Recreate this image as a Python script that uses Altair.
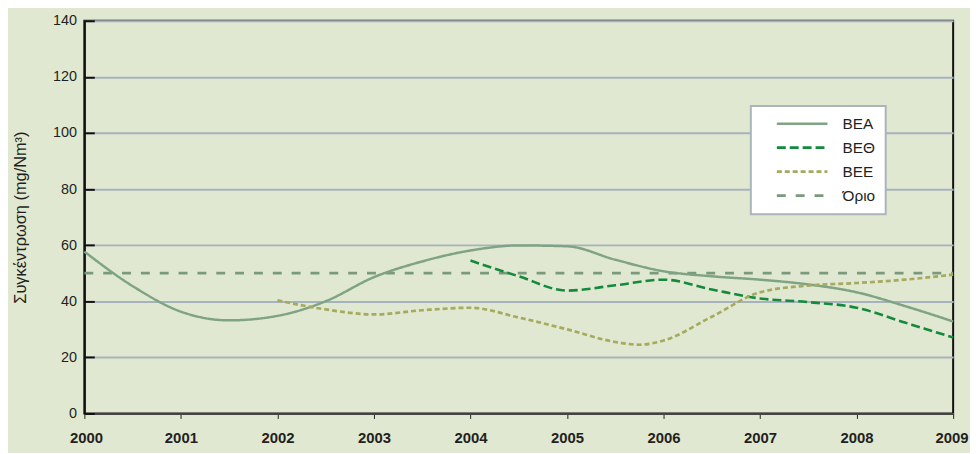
import altair as alt
import pandas as pd

# ---- data ----
series_names = ["ΒΕΑ", "ΒΕΘ", "ΒΕΕ", "Όριο"]
series_colors = ["#7ea483", "#138a3c", "#a5aa5e", "#7a9a7c"]
series_dash = [[1, 0], [9, 4], [5, 3], [9, 10]]
series_width = [2.5, 2.8, 2.5, 4.5]

bea_years = [2000, 2000.5, 2001, 2001.5, 2002, 2002.5, 2003, 2003.5, 2004, 2004.5,
             2005, 2005.5, 2006, 2006.5, 2007, 2007.5, 2008, 2008.5, 2009]
bea_values = [57.7, 45.4, 36.3, 33.2, 34.8, 40.0, 48.6, 54.2, 58.1, 59.9,
              59.6, 54.8, 50.7, 48.9, 47.7, 46.0, 43.2, 38.3, 32.8]

beth_years = [2004, 2004.5, 2005, 2005.5, 2006, 2006.5, 2007, 2007.5, 2008, 2008.5, 2009]
beth_values = [54.5, 48.9, 43.8, 45.7, 47.7, 44.2, 41.0, 39.7, 37.7, 32.4, 27.1]

bee_years = [2002, 2002.5, 2003, 2003.5, 2004, 2004.5, 2005, 2005.5, 2005.75, 2006,
             2006.5, 2007, 2007.5, 2008, 2008.5, 2009]
bee_values = [40.3, 37.1, 35.3, 36.8, 37.7, 34.2, 30.0, 25.5, 24.5, 26.0,
              34.5, 43.2, 45.6, 46.5, 47.7, 49.5]

limit_years = [2000, 2009]
limit_values = [50, 50]

x_ticks = [2000, 2001, 2002, 2003, 2004, 2005, 2006, 2007, 2008, 2009]
y_ticks = [0, 20, 40, 60, 80, 100, 120, 140]
y_title = "Συγκέντρωση (mg/Nm³)"

rows = []
for name, ys, vs in [(series_names[0], bea_years, bea_values),
                     (series_names[1], beth_years, beth_values),
                     (series_names[2], bee_years, bee_values),
                     (series_names[3], limit_years, limit_values)]:
    for y, v in zip(ys, vs):
        rows.append({"year": y, "value": v, "series": name})
df = pd.DataFrame(rows)

FONT = "Liberation Sans"
W, H = 876, 396

legend = alt.Legend(
    orient="none", legendX=672, legendY=86, title=None,
    symbolType="M-4.25,0H4.25", symbolSize=144, symbolOffset=34,
    labelOffset=33, labelFontSize=15.5, labelFont=FONT, labelColor="#231f20",
    padding=10, rowPadding=7.2, fillColor="white", strokeColor="#abb4bb",
)

x_enc = alt.X("year:Q",
              scale=alt.Scale(domain=[2000, 2009], nice=False, zero=False),
              axis=alt.Axis(values=x_ticks, format="d", title=None, grid=False,
                            labelFlush=True, labelFlushOffset=15,
                            labelFont=FONT, labelFontSize=15, labelFontWeight="bold",
                            labelColor="#231f20", labelPadding=12,
                            tickSize=5, tickColor="#222222", tickWidth=1,
                            domainColor="#444444", domainWidth=2))

y_scale = alt.Scale(domain=[0, 140], nice=False)

color_enc = alt.Color("series:N", scale=alt.Scale(domain=series_names, range=series_colors), legend=legend)
dash_enc = alt.StrokeDash("series:N", scale=alt.Scale(domain=series_names, range=series_dash), legend=legend)
width_enc = alt.StrokeWidth("series:N", scale=alt.Scale(domain=series_names, range=series_width), legend=legend)

limit_layer = alt.Chart(df).transform_filter(
    alt.datum.series == series_names[3]
).mark_line().encode(
    x=x_enc,
    y=alt.Y("value:Q", scale=y_scale,
            axis=alt.Axis(values=y_ticks, title=y_title, orient="left",
                          grid=True, gridColor="#a7b3bc", gridWidth=2,
                          ticks=False, tickSize=0,
                          labelFont=FONT, labelFontSize=14.5, labelColor="#231f20", labelPadding=8,
                          titleFont=FONT, titleFontSize=16.5, titleFontWeight="normal",
                          titleColor="#231f20", titlePadding=24,
                          domainColor="#111111", domainWidth=2)),
    color=color_enc, strokeDash=dash_enc, strokeWidth=width_enc,
)

series_layer = alt.Chart(df).transform_filter(
    alt.datum.series != series_names[3]
).mark_line(interpolate="monotone").encode(
    x=x_enc,
    y=alt.Y("value:Q", scale=y_scale,
            axis=alt.Axis(values=y_ticks, title=None, orient="right", offset=-W,
                          grid=False, labels=False, domain=False,
                          ticks=True, tickSize=10, tickColor="#111111", tickWidth=2)),
    color=color_enc, strokeDash=dash_enc, strokeWidth=width_enc,
)

chart = alt.layer(limit_layer, series_layer).resolve_axis(y="independent").properties(
    width=W, height=H,
    autosize=alt.AutoSizeParams(type="none"),
    padding={"left": 77, "top": 11, "right": 17, "bottom": 38},
    background="#e1e8d1",
).configure_view(
    stroke="#111111", strokeWidth=2, fill="#e1e8d1"
).configure_legend(
    strokeWidth=2
)

chart.save("out.html", embed_options={"renderer": "svg", "actions": False})
